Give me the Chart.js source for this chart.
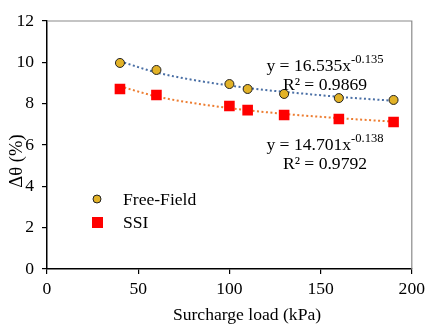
<!DOCTYPE html>
<html>
<head>
<meta charset="utf-8">
<script src="https://cdn.jsdelivr.net/npm/chart.js@4/dist/chart.umd.min.js"></script>
<style>
html,body{margin:0;padding:0;background:#fff;}
#wrap{width:430px;height:325px;position:relative;}
</style>
</head>
<body>
<div id="wrap"><canvas id="c" width="430" height="325"></canvas></div>
<script>
const loads = [40, 60, 100, 110, 130, 160, 190];
const freeField = [9.97, 9.63, 8.95, 8.71, 8.47, 8.27, 8.18];
const ssi = [8.71, 8.42, 7.89, 7.69, 7.45, 7.26, 7.11];
const trendX = [40, 60, 80, 100, 120, 140, 160, 190];
const freeFieldTrend = [10.05, 9.51, 9.15, 8.88, 8.66, 8.49, 8.33, 8.14];
const ssiTrend = [8.84, 8.35, 8.03, 7.79, 7.59, 7.43, 7.30, 7.13];
const xTicks = [0, 50, 100, 150, 200];
const yTicks = [0, 2, 4, 6, 8, 10, 12];
const seriesNames = ['Free-Field', 'SSI'];
const eqFree = ['y = 16.535x', '-0.135', 'R² = 0.9869'];
const eqSsi = ['y = 14.701x', '-0.138', 'R² = 0.9792'];
const xTitle = 'Surcharge load (kPa)';
const yTitle = 'Δθ (%)';

const FONT = '"Liberation Serif", "Times New Roman", serif';
const FS = 17.6;
const gold = '#E2B227';
const red = '#FF0000';

function pts(xs, ys){ return xs.map((x,i)=>({x:x, y:ys[i]})); }

const decor = {
  id:'decor',
  beforeDatasetsDraw(chart){
    const {ctx, chartArea:a} = chart;
    ctx.save();
    ctx.strokeStyle = '#8a8a8a';
    ctx.lineWidth = 1.2;
    ctx.beginPath();
    ctx.moveTo(a.left, a.top); ctx.lineTo(a.right, a.top); ctx.lineTo(a.right, a.bottom);
    ctx.stroke();
    ctx.restore();
  },
  afterDraw(chart){
    const {ctx, chartArea:a} = chart;
    ctx.save();
    ctx.fillStyle = '#000';
    function eq(lines, cx, b1, b2){
      ctx.textBaseline = 'alphabetic';
      ctx.font = FS + 'px ' + FONT;
      const w1 = ctx.measureText(lines[0]).width;
      ctx.font = '12.6px ' + FONT;
      const w2 = ctx.measureText(lines[1]).width;
      const left = cx - (w1 + w2)/2;
      ctx.textAlign = 'left';
      ctx.font = FS + 'px ' + FONT;
      ctx.fillText(lines[0], left, b1);
      ctx.font = '12.6px ' + FONT;
      ctx.fillText(lines[1], left + w1, b1 - 8);
      ctx.font = FS + 'px ' + FONT;
      ctx.textAlign = 'center';
      ctx.fillText(lines[2], cx, b2);
    }
    eq(eqFree, 325, 71, 90);
    eq(eqSsi, 325, 150, 169);
    // legend
    ctx.beginPath();
    ctx.arc(97, 199, 4, 0, Math.PI*2);
    ctx.fillStyle = gold; ctx.fill();
    ctx.lineWidth = 1; ctx.strokeStyle = '#222'; ctx.stroke();
    ctx.fillStyle = red;
    ctx.fillRect(92, 217, 11, 11);
    ctx.fillStyle = '#000';
    ctx.textAlign = 'left';
    ctx.textBaseline = 'alphabetic';
    ctx.font = FS + 'px ' + FONT;
    ctx.fillText(seriesNames[0], 123, 205);
    ctx.fillText(seriesNames[1], 123, 228);
    // axis titles
    ctx.textAlign = 'center';
    ctx.font = FS + 'px ' + FONT;
    ctx.fillText(xTitle, 247, 320);
    ctx.translate(17, 161);
    ctx.rotate(-Math.PI/2);
    ctx.textBaseline = 'middle';
    ctx.font = '18.6px ' + FONT;
    ctx.fillText(yTitle, 0, 0);
    ctx.restore();
  }
};

new Chart(document.getElementById('c'), {
  type:'scatter',
  data:{
    datasets:[
      {label:'ffTrend', data:pts(trendX, freeFieldTrend), showLine:true, borderColor:'#4A6FA5', borderWidth:2, borderDash:[2,2.5], pointRadius:0, cubicInterpolationMode:'monotone', fill:false, order:3},
      {label:'ssiTrend', data:pts(trendX, ssiTrend), showLine:true, borderColor:'#ED7D31', borderWidth:2, borderDash:[2,2.5], pointRadius:0, cubicInterpolationMode:'monotone', fill:false, order:3},
      {label:seriesNames[0], data:pts(loads, freeField), pointStyle:'circle', pointRadius:4.5, pointBackgroundColor:gold, pointBorderColor:'#222', pointBorderWidth:1, order:1},
      {label:seriesNames[1], data:pts(loads, ssi), pointStyle:'rect', pointRadius:7.5, pointBackgroundColor:red, pointBorderColor:red, pointBorderWidth:0, order:2}
    ]
  },
  options:{
    responsive:false,
    animation:false,
    devicePixelRatio:1,
    layout:{padding:{top:21, right:14, left:0, bottom:0}},
    plugins:{legend:{display:false}, tooltip:{enabled:false}},
    scales:{
      x:{
        type:'linear', min:0, max:200,
        afterBuildTicks(s){ s.ticks = xTicks.map(v=>({value:v})); },
        afterFit(s){ s.height = 56; },
        grid:{drawOnChartArea:false, drawTicks:true, tickLength:5, color:'#000', lineWidth:1.2},
        border:{color:'#000', width:1.5},
        ticks:{color:'#000', font:{family:FONT, size:FS}, padding:5, maxRotation:0}
      },
      y:{
        type:'linear', min:0, max:12,
        afterBuildTicks(s){ s.ticks = yTicks.map(v=>({value:v})); },
        afterFit(s){ s.width = 47; },
        grid:{drawOnChartArea:false, drawTicks:true, tickLength:5, color:'#000', lineWidth:1.2},
        border:{color:'#000', width:1.5},
        ticks:{color:'#000', font:{family:FONT, size:FS}, padding:8}
      }
    }
  },
  plugins:[decor]
});
</script>
</body>
</html>
